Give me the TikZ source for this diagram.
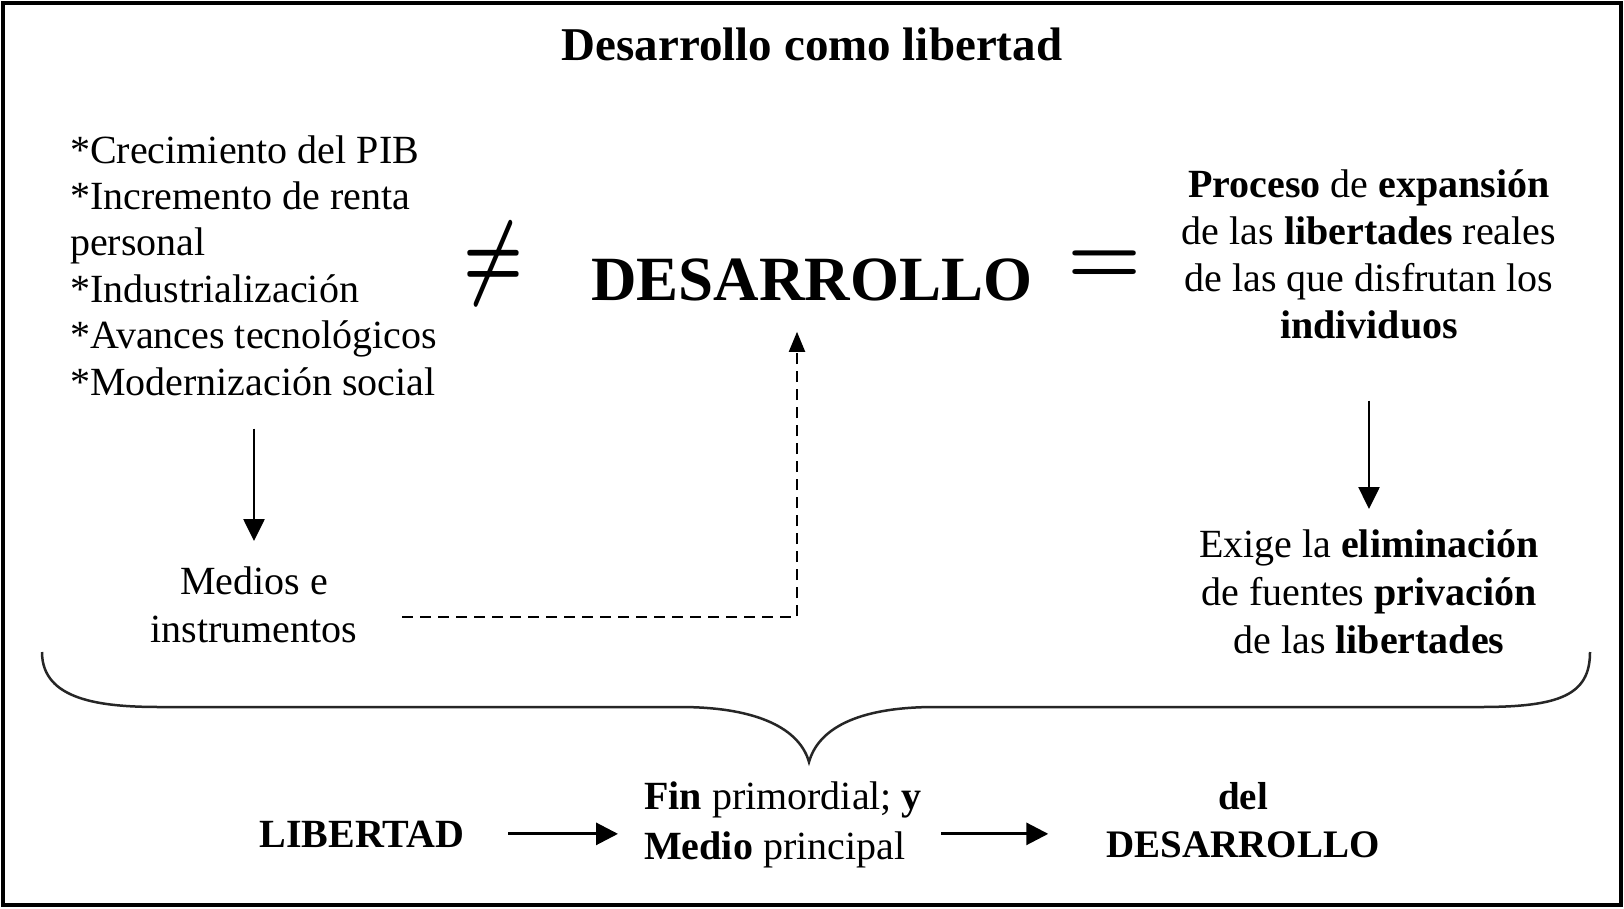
\documentclass[tikz,border=0pt]{standalone}
\usepackage{fontspec}
\usepackage{graphicx}
\setmainfont{Liberation Serif}
\usetikzlibrary{arrows.meta}
\begin{document}
\begin{tikzpicture}[x=1pt,y=-1pt,
  txt/.style={inner sep=0pt, anchor=base, font=\fontsize{40}{47}\selectfont},
  arr/.style={line width=2.5pt, -{Triangle[length=22pt,width=21pt]}},
  harr/.style={line width=3pt, -{Triangle[length=22pt,width=22pt]}},
  dashline/.style={line width=2pt, dash pattern=on 11pt off 7pt},
  brace/.style={line width=2.5pt, draw=black!85}
]
\useasboundingbox (0,0) rectangle (1624,908);
\fill[white] (0,0) rectangle (1624,908);
\draw[line width=4pt] (3,3) rectangle (1621,905);

% title
\node[txt, font=\fontsize{47}{56}\selectfont\bfseries] (title) at (812,60) {Desarrollo como libertad};

% left list (base = last line)
\node[txt, anchor=base west, align=left, font=\fontsize{40}{46.4}\selectfont] (list) at (70,395)
  {*Crecimiento del PIB\\*Incremento de renta\\personal\\*Industrialización\\*Avances tecnológicos\\*Modernización social};

% not equal
\node[inner sep=0pt] (neq) at (494,264) {\resizebox*{60pt}{84pt}{\boldmath$\neq$}};

% big DESARROLLO
\node[txt, font=\fontsize{63}{70}\selectfont\bfseries] (des) at (812,300) {DESARROLLO};

% equal
\node[inner sep=0pt] (eq) at (1105,267) {\scalebox{8.3}{\boldmath$=$}};

% right block
\node[txt, align=center, font=\fontsize{40}{47}\selectfont] (proc) at (1369,338)
  {\textbf{Proceso} de \textbf{expansión}\\de las \textbf{libertades} reales\\de las que disfrutan los\\\textbf{individuos}};

\node[txt, align=center, font=\fontsize{40}{48}\selectfont] (exige) at (1369,653)
  {Exige la \textbf{eliminación}\\de fuentes \textbf{privación}\\de las \textbf{libertades}};

\node[txt, align=center, font=\fontsize{40}{48}\selectfont] (medios) at (254,642)
  {Medios e\\instrumentos};

% arrows
\draw[arr, shorten <=33pt, shorten >=25pt] (list.south -| medios.north) -- (medios.north);
\draw[arr, shorten <=62pt, shorten >=20pt] (proc.south) -- (exige.north);

\coordinate (dstart) at (402,617);
\coordinate (dcorner) at (797,617);
\draw[dashline, -{Triangle[length=20pt,width=16pt]}, shorten >=31pt] (dstart) -- (dcorner) -- (dcorner |- des.south);

% brace
\coordinate (bl) at (42,652);
\coordinate (bl2) at (160,707);
\coordinate (bl3) at (680,707);
\coordinate (btip) at (809,762);
\coordinate (br3) at (935,707);
\coordinate (br2) at (1480,707);
\coordinate (br) at (1590,652);
\draw[brace] (bl) .. controls (42,700) and (100,707) .. (bl2) -- (bl3)
  .. controls (760,707) and (800,730) .. (btip)
  .. controls (818,730) and (855,707) .. (br3) -- (br2)
  .. controls (1560,707) and (1590,695) .. (br);

% bottom row
\node[txt, font=\fontsize{40}{50}\selectfont\bfseries] (lib) at (362,847) {LIBERTAD};
\node[txt, anchor=base west, align=left, font=\fontsize{40}{50}\selectfont] (fin) at (644,859)
  {\textbf{Fin} primordial; \textbf{y}\\\textbf{Medio} principal};
\node[txt, align=center, font=\fontsize{39}{48}\selectfont\bfseries] (del) at (1243,857)
  {del\\DESARROLLO};

\draw[harr, shorten <=44pt, shorten >=26pt] (lib.east) -- (fin.west |- lib.east);
\draw[harr, shorten <=19pt, shorten >=58pt] (fin.east |- lib.east) -- (del.west |- lib.east);
\end{tikzpicture}
\end{document}
